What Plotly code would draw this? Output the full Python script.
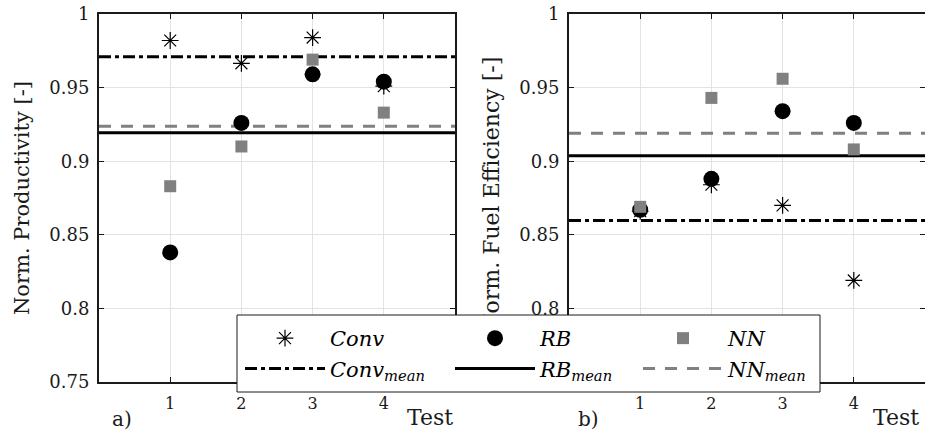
import numpy as np
import plotly.graph_objects as go

# ---------------- data ----------------
tests = [1, 2, 3, 4]
x_range = [0, 5]
y_range = [0.75, 1.0]
x_ticks = [1, 2, 3, 4]
y_ticks = [0.75, 0.8, 0.85, 0.9, 0.95, 1.0]

series_names = ["Conv", "RB", "NN"]

prod_conv = [0.982, 0.9665, 0.984, 0.951]
prod_rb = [0.838, 0.926, 0.959, 0.954]
prod_nn = [0.883, 0.910, 0.969, 0.933]

fuel_conv = [0.866, 0.884, 0.870, 0.819]
fuel_rb = [0.867, 0.888, 0.934, 0.926]
fuel_nn = [0.869, 0.943, 0.956, 0.908]

panel_labels = ["a)", "b)"]
y_titles = ["Norm. Productivity [-]", "Norm. Fuel Efficiency [-]"]
x_title = "Test"

# ---------------- styling ----------------
W, H = 925, 431
FONT = "DejaVu Serif"
AX = "#1a1a1a"
GRAY = "#808080"

def px_x(p):
    return p / W

def px_y(p):
    return 1 - p / H

marker_styles = {
    "Conv": dict(symbol="asterisk-open", size=14, color="black", line=dict(color="black", width=1.2)),
    "RB": dict(symbol="circle", size=16, color="black", line=dict(width=0)),
    "NN": dict(symbol="square", size=12, color=GRAY, line=dict(width=0)),
}
mean_styles = {
    "Conv": dict(color="black", width=3, dash="12px,4px,4px,4px"),
    "RB": dict(color="black", width=3, dash="solid"),
    "NN": dict(color=GRAY, width=3, dash="12px,10px"),
}
legend_ids = {"Conv": "legend", "RB": "legend2", "NN": "legend3"}

panels = [
    {"Conv": prod_conv, "RB": prod_rb, "NN": prod_nn},
    {"Conv": fuel_conv, "RB": fuel_rb, "NN": fuel_nn},
]

fig = go.Figure()

for i, data in enumerate(panels):
    xa = "x" if i == 0 else "x2"
    ya = "y" if i == 0 else "y2"
    # mean lines (drawn first, markers on top)
    for name in series_names:
        m = float(np.mean(data[name]))
        fig.add_trace(go.Scatter(
            x=x_range, y=[m, m], mode="lines", line=mean_styles[name],
            xaxis=xa, yaxis=ya, name=f"<i>{name}<sub>mean</sub></i>",
            legend=legend_ids[name], legendrank=2, showlegend=(i == 0),
            hoverinfo="skip"))
    for name in series_names:
        fig.add_trace(go.Scatter(
            x=tests, y=data[name], mode="markers", marker=marker_styles[name],
            xaxis=xa, yaxis=ya, name=f"<i>{name}</i>",
            legend=legend_ids[name], legendrank=1, showlegend=(i == 0)))

# empty helper trace so the right panel's title axis is created
fig.add_trace(go.Scatter(x=[], y=[], xaxis="x2", yaxis="y3", showlegend=False,
                         hoverinfo="skip"))

axis_common = dict(
    showline=True, linecolor=AX, linewidth=2, mirror="ticks",
    ticks="inside", ticklen=5, tickwidth=1, tickcolor=AX,
    showgrid=True, gridcolor="#e3e3e3", gridwidth=1,
    zeroline=False, automargin=False,
)

x_domains = [[px_x(99), px_x(455)], [px_x(569), 1.0]]
y_domain = [px_y(382), px_y(14)]

layout_axes = {}
for i in range(2):
    sx = "" if i == 0 else "2"
    layout_axes[f"xaxis{sx}"] = dict(
        axis_common, domain=x_domains[i], range=x_range, tickvals=x_ticks,
        anchor=f"y{sx}", ticklabelstandoff=6,
        tickfont=dict(family=FONT, size=16, color=AX))
    layout_axes[f"yaxis{sx}"] = dict(
        axis_common, domain=y_domain, range=y_range, tickvals=y_ticks,
        anchor=f"x{sx}", ticklabelstandoff=4,
        tickfont=dict(family=FONT, size=18, color=AX))
layout_axes["yaxis"]["title"] = dict(text=y_titles[0],
                                     font=dict(family=FONT, size=21, color=AX), standoff=14)
# right panel title: drawn as the label of an overlaid axis so the legend frame covers it
layout_axes["yaxis3"] = dict(
    overlaying="y2", anchor="free", position=px_x(503), side="left",
    range=y_range, tickvals=[float(np.mean(y_range))], ticktext=[y_titles[1]],
    tickangle=-90, showline=False, showgrid=False, zeroline=False, ticks="",
    automargin=False, tickfont=dict(family=FONT, size=22, color=AX))

fig.update_layout(**layout_axes)

# legend frame
legend_box = dict(x0=px_x(237), x1=px_x(820), y0=px_y(392), y1=px_y(315))
fig.add_shape(type="rect", xref="paper", yref="paper", layer="above",
              fillcolor="white", line=dict(color=AX, width=1), **legend_box)

legend_common = dict(
    bgcolor="rgba(0,0,0,0)", borderwidth=0, itemwidth=80, yanchor="top",
    font=dict(family=FONT, size=21, color="black"), orientation="v",
    itemclick=False, itemdoubleclick=False, tracegroupgap=0,
)
fig.update_layout(
    legend=dict(legend_common, x=px_x(240), y=px_y(318), xanchor="left"),
    legend2=dict(legend_common, x=px_x(450), y=px_y(318), xanchor="left"),
    legend3=dict(legend_common, x=px_x(638), y=px_y(318), xanchor="left"),
)

# annotations: panel labels and x titles
ann = []
for lbl, xp in zip(panel_labels, [110, 576]):
    ann.append(dict(text=lbl, x=px_x(xp), y=px_y(419), xref="paper", yref="paper",
                    xanchor="left", yanchor="middle", showarrow=False,
                    font=dict(family=FONT, size=20, color=AX)))
for xp in [405, 871]:
    ann.append(dict(text=x_title, x=px_x(xp), y=px_y(417), xref="paper", yref="paper",
                    xanchor="left", yanchor="middle", showarrow=False,
                    font=dict(family=FONT, size=22, color=AX)))
fig.update_layout(annotations=ann)

fig.update_layout(
    width=W, height=H, margin=dict(l=0, r=0, t=0, b=0, autoexpand=False),
    paper_bgcolor="white", plot_bgcolor="white",
    font=dict(family=FONT, color=AX),
)

fig.write_html("out.html")
